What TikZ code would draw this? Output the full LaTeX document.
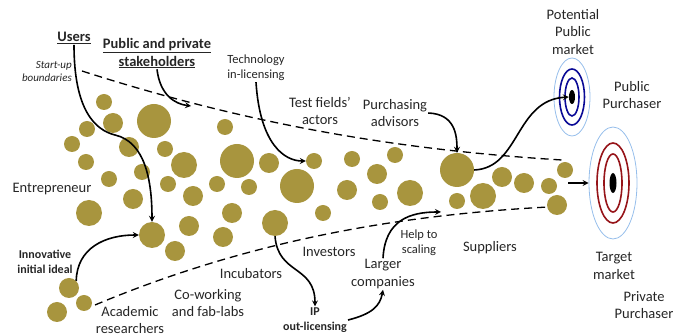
\documentclass[tikz,border=0pt]{standalone}
\usepackage{fontspec}
\setmainfont{Carlito}
\usepackage{xcolor}
\usepackage{tikz}
\usetikzlibrary{shapes.geometric, arrows}
\definecolor{gold}{RGB}{168,149,62}
\definecolor{ringblue}{RGB}{10,10,150}
\definecolor{ringred}{RGB}{150,20,25}
\definecolor{halo}{RGB}{150,190,235}
\tikzstyle{txt} = [align=center, inner sep=1pt, text=black!85, font=\fontsize{14.5}{17.5}\selectfont]
\tikzstyle{small} = [txt, font=\fontsize{12.5}{15}\selectfont]
\tikzstyle{hdr} = [txt, font=\bfseries\fontsize{14.5}{18}\selectfont]
\tikzstyle{note} = [txt, font=\bfseries\fontsize{12}{15}\selectfont]
\tikzstyle{arrow} = [line width=1.6pt,->,>=stealth]
\tikzset{
  bubble/.style={
    circle,
    fill=gold,
    inner sep=0pt
    },
  bound/.style={
    line width=1.3pt,
    dash pattern=on 8pt off 5pt
    },
  halo ring/.style={
    ellipse,
    draw=halo,
    line width=0.8pt,
    inner sep=0pt
    },
  bullseye/.style={
    ellipse,
    fill=black,
    inner sep=0pt
    },
}

\begin{document}
\begin{tikzpicture}[x=1pt, y=-1pt]
\useasboundingbox (0,0) rectangle (673,336);

% the start-up cloud
\foreach \x/\y/\r/\nm in {104/102/8/b1, 113/123/10/b2, 154/121/17/b3, 87/129/8/b4,
  72/144/8/b5, 129/147/10/b6, 165/149/8/b7, 86/162/8/b8, 184/165/13/b9,
  142/172/8/b10, 109/179/8/b11, 168/184/8/b12, 193/196/10/b13, 133/199/10/b14,
  89/213/13/b15, 217/184/8/b16, 225/127/8/b17, 237/161/17/b18, 269/163/10/b19,
  314/161/8/testc, 352/159/8/b20, 395/155/8/b21, 249/187/8/b22, 297/186/17/b23,
  347/190/10/b24, 377/174/10/b25, 410/193/13/b26, 380/202/8/b27, 232/213/10/b28,
  323/213/8/b29, 275/223/13/ipc, 189/226/10/b30, 152/235/13/idea, 175/251/10/b31,
  223/237/10/b32, 69/288/10/seed, 84/303/8/b33, 57/312/10/b34, 457/170/17/adv,
  502/177/10/b35, 524/183/10/b36, 549/186/8/b37, 565/170/8/b38, 457/201/8/b39,
  483/196/13/b40, 557/205/10/b41}
  \node[bubble, minimum size={2*\r pt}] (\nm) at (\x,\y) {};

% boundaries
\coordinate (up1) at (82,71);
\coordinate (up2) at (562,160);
\coordinate (lo1) at (95,305);
\coordinate (lo2) at (548,207);
\draw[bound] (up1) .. controls (250,125) and (400,150) .. (up2);
\draw[bound] (lo1) .. controls (250,240) and (400,215) .. (lo2);

% markets
\node (pubt) [halo ring, minimum width=36pt, minimum height=78pt] at (572,97) {};
\draw[ringblue, line width=1.6pt] (pubt.center) ellipse [x radius=12.5pt, y radius=28pt];
\draw[ringblue, line width=1.6pt] (pubt.center) ellipse [x radius=7pt, y radius=19pt];
\node (pubdot) [bullseye, minimum width=6pt, minimum height=14pt] at (pubt.center) {};
\node (privt) [halo ring, minimum width=48pt, minimum height=112pt] at (613,183) {};
\draw[ringred, line width=1.6pt] (privt.center) ellipse [x radius=16pt, y radius=40pt];
\draw[ringred, line width=1.6pt] (privt.center) ellipse [x radius=9pt, y radius=29pt];
\node (privdot) [bullseye, minimum width=7pt, minimum height=20pt] at (privt.center) {};

% actors
\node (users) [hdr] at (74,38) {\underline{Users}};
\node (stake) [hdr] at (157,53) {\underline{Public and private}\\\underline{stakeholders}};
\node (startup) [txt, align=right, anchor=east, font=\itshape\fontsize{11}{13}\selectfont] at (73,71) {Start-up\\boundaries};
\node (techlic) [small] at (256,68) {Technology\\in-licensing};
\node (testf) [txt] at (320,111) {Test fields'\\actors};
\node (purch) [txt] at (395,113) {Purchasing\\advisors};
\node (potpub) [txt] at (573,32) {Potential\\Public\\market};
\node (pubpur) [txt] at (632,95) {Public\\Purchaser};
\node (entre) [txt] at (52,189) {Entrepreneur};
\node (innov) [note] at (45,262) {Innovative\\initial ideal};
\node (acad) [txt] at (130,320) {Academic\\researchers};
\node (cowork) [txt] at (208,303) {Co-working\\and fab-labs};
\node (incub) [txt] at (251,274) {Incubators};
\node (invest) [txt] at (329,252) {Investors};
\node (ipout) [note] at (315,320) {IP\\out-licensing};
\node (help) [small] at (419,243) {Help to\\scaling};
\node (larger) [txt] at (383,274) {Larger\\companies};
\node (suppl) [txt] at (490,248) {Suppliers};
\node (target) [txt] at (614,266) {Target\\market};
\node (privpur) [txt] at (644,305) {Private\\Purchaser};

\coordinate (stk) at (191,106);
\coordinate (hlp) at (441,212);
\coordinate (prv) at (568,183);

\draw [arrow] (users.south) .. controls (74,110) and (95,130) .. (115,135) .. controls (145,142) and (152,180) .. (idea.north);
\draw [arrow] (stake.south) .. controls (160,95) and (175,104) .. (stk);
\draw [arrow] (techlic.south) .. controls (260,145) and (285,161) .. (testc.west);
\draw [arrow] (purch.east) .. controls (455,114) and (457,135) .. (adv.north);
\draw [arrow] (adv.east) .. controls (520,168) and (515,100) .. (pubdot.west);
\draw [arrow] (prv) -- (privt.west);
\draw [arrow] (seed.north east) .. controls (77,248) and (105,235) .. (idea.west);
\draw [arrow] (ipc.south) .. controls (278,275) and (315,265) .. (ipout.north);
\draw [arrow] (ipout.east) .. controls (372,314) and (380,306) .. (larger.south);
\draw [arrow] (larger.north) .. controls (385,220) and (410,212) .. (hlp);

\end{tikzpicture}
\end{document}
